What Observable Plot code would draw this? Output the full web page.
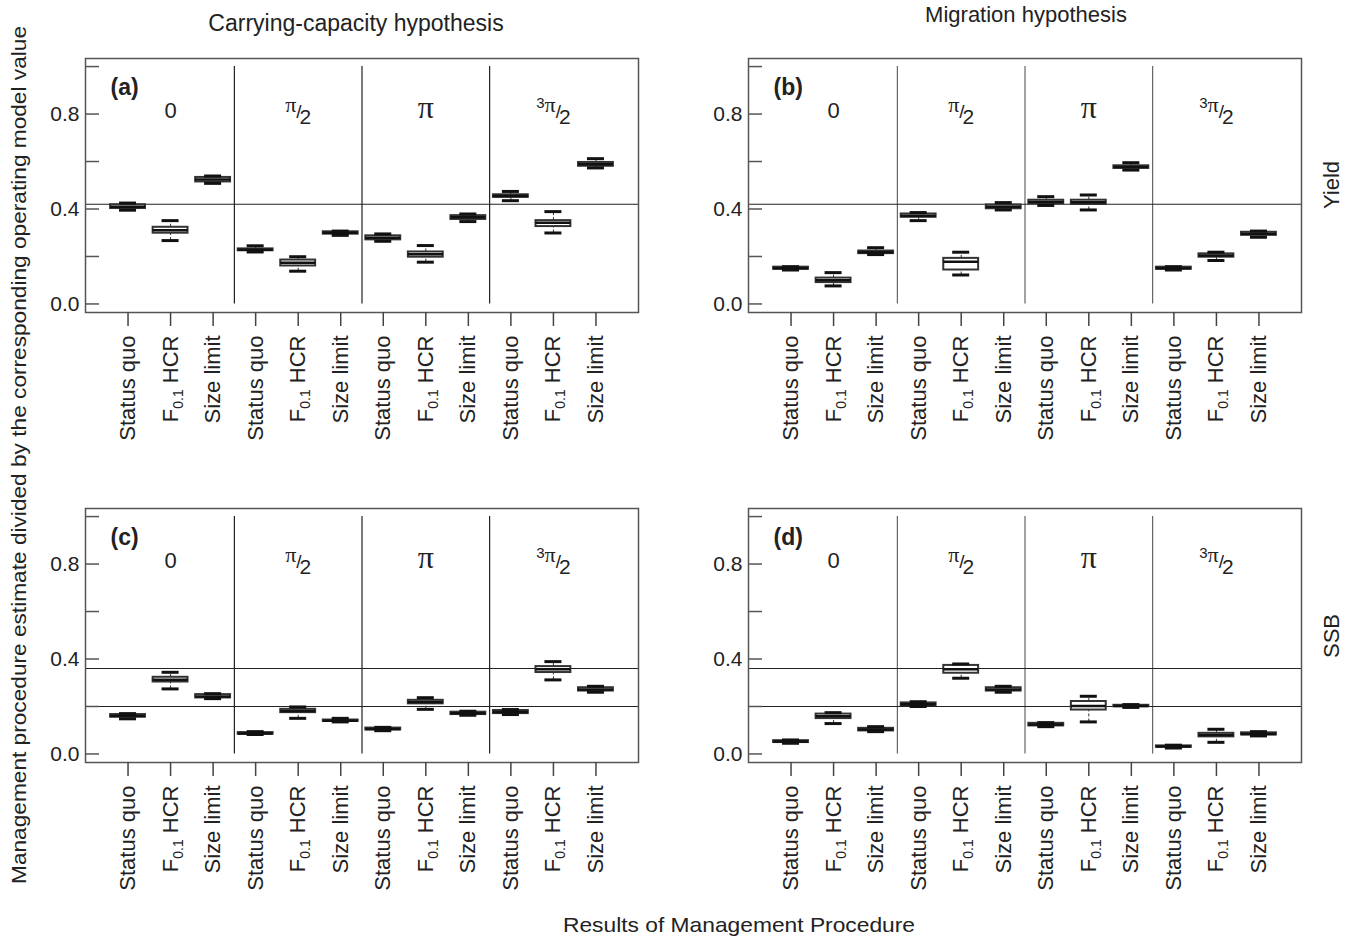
<!DOCTYPE html>
<html><head><meta charset="utf-8">
<script src="https://cdn.jsdelivr.net/npm/d3@7"></script>
<script src="https://cdn.jsdelivr.net/npm/@observablehq/plot@0.6"></script>
<style>
body{margin:0;background:#fff;}
#root{position:relative;width:1349px;height:939px;overflow:hidden;background:#fff;font-family:"Liberation Sans",Arial,sans-serif;}
.panel{position:absolute;}
#overlay{position:absolute;left:0;top:0;}
</style></head><body><div id="root"></div>
<script>
// ---------- data ----------
const procedures = ["Status quo", "F0.1 HCR", "Size limit"];
const phases = ["0", "π/2", "π", "3π/2"];
const panelLabels = ["(a)", "(b)", "(c)", "(d)"];
const hypotheses = ["Carrying-capacity hypothesis", "Migration hypothesis"];
const quantities = ["Yield", "SSB"];
const xTitle = "Results of Management Procedure";
const yTitle = "Management procedure estimate divided by the corresponding operating model value";
const xTickValues = [1, 2, 3, 4, 5, 6, 7, 8, 9, 10, 11, 12];
const yTickValues = [0, 0.2, 0.4, 0.6, 0.8, 1.0];
const yLabelValues = [0, 0.4, 0.8];
const groupDividers = [3.5, 6.5, 9.5];
const dividerSpan = [0, 1];
const refYield = [0.42];
const refSSB = [0.36, 0.2];

// [min, q1, median, q3, max] per box, order: phase 0, pi/2, pi, 3pi/2 x (Status quo, F0.1 HCR, Size limit)
const statsA = [
  [0.395, 0.402, 0.410, 0.418, 0.425],
  [0.267, 0.298, 0.310, 0.323, 0.351],
  [0.508, 0.514, 0.524, 0.533, 0.539],
  [0.219, 0.224, 0.228, 0.232, 0.245],
  [0.138, 0.160, 0.174, 0.185, 0.199],
  [0.289, 0.294, 0.300, 0.304, 0.307],
  [0.264, 0.270, 0.279, 0.287, 0.295],
  [0.176, 0.197, 0.209, 0.219, 0.246],
  [0.347, 0.356, 0.365, 0.372, 0.379],
  [0.435, 0.449, 0.455, 0.460, 0.474],
  [0.299, 0.326, 0.342, 0.351, 0.389],
  [0.573, 0.580, 0.588, 0.596, 0.612]
];
const statsB = [
  [0.143, 0.146, 0.150, 0.155, 0.157],
  [0.076, 0.090, 0.100, 0.109, 0.132],
  [0.208, 0.212, 0.218, 0.223, 0.237],
  [0.351, 0.365, 0.372, 0.379, 0.385],
  [0.122, 0.143, 0.178, 0.192, 0.218],
  [0.396, 0.401, 0.410, 0.417, 0.427],
  [0.415, 0.422, 0.430, 0.437, 0.452],
  [0.396, 0.419, 0.428, 0.437, 0.459],
  [0.564, 0.571, 0.577, 0.582, 0.595],
  [0.143, 0.146, 0.150, 0.155, 0.157],
  [0.183, 0.197, 0.204, 0.211, 0.218],
  [0.281, 0.289, 0.296, 0.302, 0.307]
];
const statsC = [
  [0.148, 0.155, 0.160, 0.166, 0.170],
  [0.274, 0.303, 0.313, 0.323, 0.344],
  [0.233, 0.236, 0.242, 0.250, 0.254],
  [0.082, 0.083, 0.086, 0.090, 0.094],
  [0.150, 0.174, 0.181, 0.188, 0.198],
  [0.135, 0.137, 0.140, 0.143, 0.150],
  [0.098, 0.101, 0.105, 0.109, 0.112],
  [0.188, 0.211, 0.219, 0.226, 0.237],
  [0.163, 0.166, 0.171, 0.176, 0.180],
  [0.166, 0.170, 0.177, 0.183, 0.187],
  [0.312, 0.343, 0.357, 0.368, 0.389],
  [0.260, 0.265, 0.272, 0.279, 0.285]
];
const statsD = [
  [0.045, 0.048, 0.052, 0.056, 0.059],
  [0.128, 0.149, 0.159, 0.168, 0.174],
  [0.094, 0.097, 0.103, 0.108, 0.115],
  [0.200, 0.204, 0.209, 0.215, 0.220],
  [0.319, 0.340, 0.357, 0.373, 0.379],
  [0.260, 0.265, 0.272, 0.279, 0.285],
  [0.115, 0.118, 0.124, 0.129, 0.132],
  [0.135, 0.185, 0.202, 0.221, 0.243],
  [0.196, 0.199, 0.202, 0.205, 0.208],
  [0.025, 0.028, 0.031, 0.034, 0.037],
  [0.049, 0.072, 0.080, 0.087, 0.104],
  [0.076, 0.080, 0.084, 0.089, 0.094]
];

// ---------- layout ----------
const FONT = "'Liberation Sans', Arial, Helvetica, sans-serif";
const SERIF = "'Liberation Serif', 'DejaVu Serif', serif";
const frameW = 553, frameH = 254;
const mL = 50, mT = 10, mR = 14, mB = 140;
const panels = [
  {label: panelLabels[0], stats: statsA, ref: refYield, left: 85, top: 58, div: "#222"},
  {label: panelLabels[1], stats: statsB, ref: refYield, left: 748, top: 58, div: "#666"},
  {label: panelLabels[2], stats: statsC, ref: refSSB, left: 85, top: 508, div: "#222"},
  {label: panelLabels[3], stats: statsD, ref: refSSB, left: 748, top: 508, div: "#666"}
];
const boxHalf = 0.41, stapleHalf = 0.2;

const root = document.getElementById("root");
const SVGNS = "http://www.w3.org/2000/svg";
function setTspans(t, parts) {
  while (t.firstChild) t.removeChild(t.firstChild);
  for (const [txt, attrs] of parts) {
    const s = document.createElementNS(SVGNS, "tspan");
    s.textContent = txt;
    for (const k in attrs) s.setAttribute(k, attrs[k]);
    t.appendChild(s);
  }
}

function makePanel(p) {
  const rows = p.stats.map(([min, q1, med, q3, max], i) => ({
    pos: xTickValues[i], procedure: procedures[i % 3], phase: phases[Math.floor(i / 3)], min, q1, med, q3, max
  }));
  const svg = Plot.plot({
    width: mL + frameW + mR,
    height: mT + frameH + mB,
    marginLeft: mL, marginTop: mT, marginRight: mR, marginBottom: mB,
    style: {fontFamily: FONT, background: "transparent", color: "#222"},
    x: {domain: [0, 13], axis: null},
    y: {domain: [-0.036, 1.034], axis: null},
    marks: [
      Plot.ruleX(groupDividers, {y1: dividerSpan[0], y2: dividerSpan[1], stroke: p.div, strokeWidth: 1.2}),
      Plot.ruleY(p.ref, {stroke: "#222", strokeWidth: 1.1}),
      Plot.ruleX(rows, {x: "pos", y1: "q3", y2: "max", stroke: "#333", strokeWidth: 1, strokeDasharray: "3,2"}),
      Plot.ruleX(rows, {x: "pos", y1: "min", y2: "q1", stroke: "#333", strokeWidth: 1, strokeDasharray: "3,2"}),
      Plot.rect(rows, {x1: d => d.pos - boxHalf, x2: d => d.pos + boxHalf, y1: "q1", y2: "q3", fill: "white", stroke: "#333", strokeWidth: 2}),
      Plot.ruleY(rows, {y: "med", x1: d => d.pos - boxHalf, x2: d => d.pos + boxHalf, stroke: "#111", strokeWidth: 2.5}),
      Plot.ruleY(rows, {y: "max", x1: d => d.pos - stapleHalf, x2: d => d.pos + stapleHalf, stroke: "#111", strokeWidth: 3}),
      Plot.ruleY(rows, {y: "min", x1: d => d.pos - stapleHalf, x2: d => d.pos + stapleHalf, stroke: "#111", strokeWidth: 3}),
      Plot.frame({stroke: "#555", strokeWidth: 1.5}),
      Plot.axisY({ticks: yTickValues, tickSize: -14, tickFormat: () => "", label: null, stroke: "#555", strokeWidth: 1.5}),
      Plot.axisY({ticks: yLabelValues, tickSize: 0, tickPadding: 6, tickFormat: d => d.toFixed(1), label: null, fontSize: 21, fill: "#222"}),
      Plot.axisX({ticks: xTickValues, tickSize: 14, tickPadding: 9, tickRotate: -90, label: null,
        tickFormat: d => procedures[(d - 1) % 3], fontSize: 22, fill: "#222", stroke: "#444", strokeWidth: 1.5}),
      Plot.text(phases, {x: (d, i) => 3 * i + 2, frameAnchor: "top", dy: 52, lineAnchor: "middle",
        fontSize: 22, fill: "#222"}),
      Plot.text([p.label], {frameAnchor: "top-left", dx: 25, dy: 20, lineAnchor: "top",
        fontSize: 23, fontWeight: "bold", fill: "#222"})
    ]
  });
  svg.classList.add("panel");
  svg.style.left = (p.left - mL) + "px";
  svg.style.top = (p.top - mT) + "px";
  svg.querySelectorAll("text").forEach(t => {
    const s0 = t.textContent;
    if (s0 === procedures[1]) {
      setTspans(t, [["F", {}], ["0.1", {"font-size": 14, dy: 5}], [" HCR", {dy: -5}]]);
    } else if (s0 === phases[2]) {
      setTspans(t, [["π", {"font-family": SERIF, "font-size": 32}]]);
    } else if (s0 === phases[1]) {
      setTspans(t, [["π", {"font-family": SERIF, "font-size": 22, dy: -6}],
                    ["/", {"font-size": 19, dy: 6}],
                    ["2", {"font-size": 21, dy: 6, dx: -2}]]);
    } else if (s0 === phases[3]) {
      setTspans(t, [["3", {"font-size": 15, dy: -10}],
                    ["π", {"font-family": SERIF, "font-size": 22, dy: 4}],
                    ["/", {"font-size": 19, dy: 6}],
                    ["2", {"font-size": 21, dy: 6, dx: -2}]]);
    }
  });
  return svg;
}

// overlay with titles
const ov = d3.select(root).append("svg").attr("id", "overlay").attr("width", 1349).attr("height", 939)
  .style("font-family", FONT).attr("fill", "#222");
ov.append("text").attr("x", 356).attr("y", 31).attr("text-anchor", "middle").attr("font-size", 23).text(hypotheses[0]);
ov.append("text").attr("x", 1026).attr("y", 22).attr("text-anchor", "middle").attr("font-size", 22).text(hypotheses[1]);
ov.append("text").attr("transform", "translate(1331,185) rotate(-90)").attr("text-anchor", "middle")
  .attr("dominant-baseline", "central").attr("font-size", 22).text(quantities[0]);
ov.append("text").attr("transform", "translate(1331,636) rotate(-90)").attr("text-anchor", "middle")
  .attr("dominant-baseline", "central").attr("font-size", 22).text(quantities[1]);
ov.append("text").attr("x", 739).attr("y", 932).attr("text-anchor", "middle").attr("font-size", 21)
  .attr("textLength", 352).attr("lengthAdjust", "spacingAndGlyphs").text(xTitle);
ov.append("text").attr("transform", "translate(18,455) rotate(-90)").attr("text-anchor", "middle")
  .attr("dominant-baseline", "central").attr("font-size", 21)
  .attr("textLength", 858).attr("lengthAdjust", "spacingAndGlyphs").text(yTitle);

panels.forEach(p => root.appendChild(makePanel(p)));
</script></body></html>
